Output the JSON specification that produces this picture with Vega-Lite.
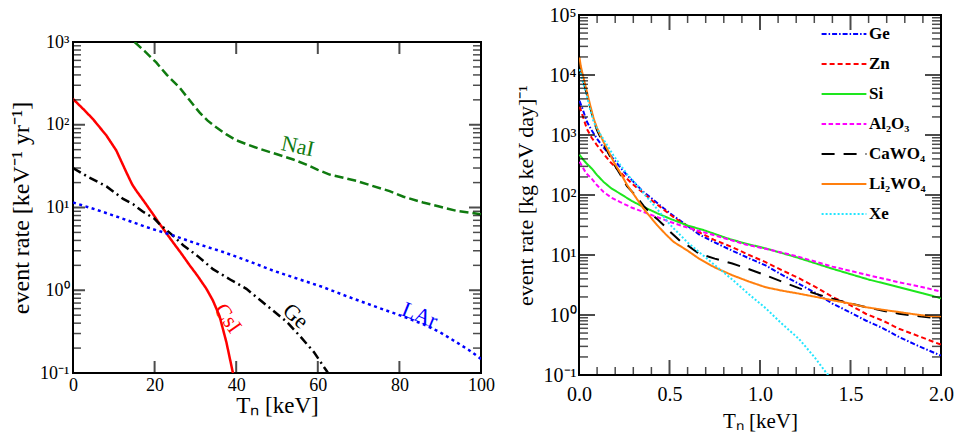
{
  "$schema": "https://vega.github.io/schema/vega-lite/v6.json",
  "background": "white",
  "padding": {"left": 8, "top": 4, "right": 2, "bottom": 0},
  "spacing": 17,
  "datasets": {
    "left": [
      {"series": "NaI", "T": 15.1, "rate": 1000}, {"series": "NaI", "T": 17.5, "rate": 780}, {"series": "NaI", "T": 20.4, "rate": 566},
      {"series": "NaI", "T": 23, "rate": 400}, {"series": "NaI", "T": 26.1, "rate": 282}, {"series": "NaI", "T": 28.5, "rate": 200},
      {"series": "NaI", "T": 31, "rate": 141}, {"series": "NaI", "T": 33, "rate": 112}, {"series": "NaI", "T": 35.1, "rate": 93},
      {"series": "NaI", "T": 37.5, "rate": 77}, {"series": "NaI", "T": 40, "rate": 65}, {"series": "NaI", "T": 43, "rate": 57},
      {"series": "NaI", "T": 45.8, "rate": 51}, {"series": "NaI", "T": 50, "rate": 44}, {"series": "NaI", "T": 54, "rate": 38},
      {"series": "NaI", "T": 57.2, "rate": 33}, {"series": "NaI", "T": 60, "rate": 28.5}, {"series": "NaI", "T": 62.9, "rate": 25},
      {"series": "NaI", "T": 66, "rate": 23}, {"series": "NaI", "T": 69.4, "rate": 21}, {"series": "NaI", "T": 73, "rate": 18.5},
      {"series": "NaI", "T": 77.6, "rate": 15.8}, {"series": "NaI", "T": 81, "rate": 13.5}, {"series": "NaI", "T": 85.8, "rate": 11.5},
      {"series": "NaI", "T": 90, "rate": 10.2}, {"series": "NaI", "T": 94, "rate": 9.1}, {"series": "NaI", "T": 100, "rate": 8.3},
      {"series": "CsI", "T": 0, "rate": 205}, {"series": "CsI", "T": 2.5, "rate": 155}, {"series": "CsI", "T": 4.9, "rate": 117},
      {"series": "CsI", "T": 8.2, "rate": 74}, {"series": "CsI", "T": 10.6, "rate": 49}, {"series": "CsI", "T": 13.1, "rate": 26.5},
      {"series": "CsI", "T": 14.5, "rate": 19}, {"series": "CsI", "T": 15.5, "rate": 16}, {"series": "CsI", "T": 17.6, "rate": 11.5},
      {"series": "CsI", "T": 20, "rate": 7.8}, {"series": "CsI", "T": 20.8, "rate": 6.8}, {"series": "CsI", "T": 22.5, "rate": 5.2},
      {"series": "CsI", "T": 24.5, "rate": 3.8}, {"series": "CsI", "T": 26.5, "rate": 2.8}, {"series": "CsI", "T": 28.6, "rate": 2.0},
      {"series": "CsI", "T": 30.5, "rate": 1.5}, {"series": "CsI", "T": 32.7, "rate": 1.04}, {"series": "CsI", "T": 34.3, "rate": 0.75},
      {"series": "CsI", "T": 35.9, "rate": 0.49}, {"series": "CsI", "T": 37.6, "rate": 0.235}, {"series": "CsI", "T": 39.2, "rate": 0.1},
      {"series": "Ge", "T": 0, "rate": 30}, {"series": "Ge", "T": 4, "rate": 23}, {"series": "Ge", "T": 8.2, "rate": 18},
      {"series": "Ge", "T": 12.3, "rate": 12.7}, {"series": "Ge", "T": 14.7, "rate": 11}, {"series": "Ge", "T": 17, "rate": 9},
      {"series": "Ge", "T": 20, "rate": 7.3}, {"series": "Ge", "T": 21.2, "rate": 6.3}, {"series": "Ge", "T": 24, "rate": 4.8},
      {"series": "Ge", "T": 27, "rate": 3.5}, {"series": "Ge", "T": 30.5, "rate": 2.6}, {"series": "Ge", "T": 34.3, "rate": 1.8},
      {"series": "Ge", "T": 38.5, "rate": 1.35}, {"series": "Ge", "T": 42.5, "rate": 1.04}, {"series": "Ge", "T": 46, "rate": 0.75},
      {"series": "Ge", "T": 49, "rate": 0.57}, {"series": "Ge", "T": 52.5, "rate": 0.41}, {"series": "Ge", "T": 55.6, "rate": 0.28},
      {"series": "Ge", "T": 59, "rate": 0.18}, {"series": "Ge", "T": 62.1, "rate": 0.107}, {"series": "Ge", "T": 62.5, "rate": 0.1},
      {"series": "LAr", "T": 0, "rate": 11.5}, {"series": "LAr", "T": 6, "rate": 9.3}, {"series": "LAr", "T": 12.3, "rate": 7.3},
      {"series": "LAr", "T": 18, "rate": 5.8}, {"series": "LAr", "T": 24.5, "rate": 4.6}, {"series": "LAr", "T": 30, "rate": 3.7},
      {"series": "LAr", "T": 36.8, "rate": 2.9}, {"series": "LAr", "T": 43, "rate": 2.25}, {"series": "LAr", "T": 49, "rate": 1.73},
      {"series": "LAr", "T": 55, "rate": 1.38}, {"series": "LAr", "T": 61.3, "rate": 1.09}, {"series": "LAr", "T": 67, "rate": 0.85},
      {"series": "LAr", "T": 73.5, "rate": 0.65}, {"series": "LAr", "T": 80, "rate": 0.5}, {"series": "LAr", "T": 85.8, "rate": 0.39},
      {"series": "LAr", "T": 90, "rate": 0.31}, {"series": "LAr", "T": 94, "rate": 0.235}, {"series": "LAr", "T": 97, "rate": 0.19},
      {"series": "LAr", "T": 100, "rate": 0.148}
    ],
    "leftLabels": [
      {"series": "NaI", "T": 55.1, "rate": 55, "label": "NaI"},
      {"series": "CsI", "T": 38, "rate": 0.46, "label": "CsI"},
      {"series": "Ge", "T": 54.6, "rate": 0.49, "label": "Ge"},
      {"series": "LAr", "T": 85, "rate": 0.5, "label": "LAr"}
    ],
    "leftXTicks": [{"T": 20}, {"T": 40}, {"T": 60}, {"T": 80}],
    "leftYTicks": [
      {"rate": 0.2}, {"rate": 0.3}, {"rate": 0.4}, {"rate": 0.5}, {"rate": 0.6}, {"rate": 0.7}, {"rate": 0.8}, {"rate": 0.9},
      {"rate": 1}, {"rate": 2}, {"rate": 3}, {"rate": 4}, {"rate": 5}, {"rate": 6}, {"rate": 7}, {"rate": 8}, {"rate": 9},
      {"rate": 10}, {"rate": 20}, {"rate": 30}, {"rate": 40}, {"rate": 50}, {"rate": 60}, {"rate": 70}, {"rate": 80}, {"rate": 90},
      {"rate": 100}, {"rate": 200}, {"rate": 300}, {"rate": 400}, {"rate": 500}, {"rate": 600}, {"rate": 700}, {"rate": 800}, {"rate": 900}
    ],
    "right": [
      {"series": "Ge", "T": 0.003, "rate": 3700}, {"series": "Ge", "T": 0.02, "rate": 2700}, {"series": "Ge", "T": 0.044, "rate": 1660},
      {"series": "Ge", "T": 0.07, "rate": 1200}, {"series": "Ge", "T": 0.099, "rate": 870}, {"series": "Ge", "T": 0.135, "rate": 620},
      {"series": "Ge", "T": 0.173, "rate": 460}, {"series": "Ge", "T": 0.22, "rate": 310}, {"series": "Ge", "T": 0.265, "rate": 215},
      {"series": "Ge", "T": 0.31, "rate": 155}, {"series": "Ge", "T": 0.357, "rate": 112}, {"series": "Ge", "T": 0.41, "rate": 84},
      {"series": "Ge", "T": 0.468, "rate": 60}, {"series": "Ge", "T": 0.53, "rate": 43}, {"series": "Ge", "T": 0.597, "rate": 31},
      {"series": "Ge", "T": 0.663, "rate": 22}, {"series": "Ge", "T": 0.744, "rate": 16.5}, {"series": "Ge", "T": 0.847, "rate": 11.8},
      {"series": "Ge", "T": 0.94, "rate": 8.8}, {"series": "Ge", "T": 1.031, "rate": 6.7}, {"series": "Ge", "T": 1.12, "rate": 4.7},
      {"series": "Ge", "T": 1.215, "rate": 3.3}, {"series": "Ge", "T": 1.31, "rate": 2.3}, {"series": "Ge", "T": 1.4, "rate": 1.55},
      {"series": "Ge", "T": 1.5, "rate": 1.1}, {"series": "Ge", "T": 1.584, "rate": 0.81}, {"series": "Ge", "T": 1.68, "rate": 0.6},
      {"series": "Ge", "T": 1.768, "rate": 0.43}, {"series": "Ge", "T": 1.88, "rate": 0.3}, {"series": "Ge", "T": 2.0, "rate": 0.21},
      {"series": "Zn", "T": 0.003, "rate": 3000}, {"series": "Zn", "T": 0.02, "rate": 2100}, {"series": "Zn", "T": 0.044, "rate": 1260},
      {"series": "Zn", "T": 0.07, "rate": 900}, {"series": "Zn", "T": 0.099, "rate": 680}, {"series": "Zn", "T": 0.135, "rate": 490},
      {"series": "Zn", "T": 0.173, "rate": 355}, {"series": "Zn", "T": 0.22, "rate": 255}, {"series": "Zn", "T": 0.265, "rate": 186},
      {"series": "Zn", "T": 0.31, "rate": 140}, {"series": "Zn", "T": 0.357, "rate": 107}, {"series": "Zn", "T": 0.41, "rate": 78},
      {"series": "Zn", "T": 0.468, "rate": 57}, {"series": "Zn", "T": 0.53, "rate": 41}, {"series": "Zn", "T": 0.597, "rate": 31},
      {"series": "Zn", "T": 0.663, "rate": 24}, {"series": "Zn", "T": 0.744, "rate": 18}, {"series": "Zn", "T": 0.847, "rate": 13.5},
      {"series": "Zn", "T": 0.94, "rate": 10}, {"series": "Zn", "T": 1.031, "rate": 7.6}, {"series": "Zn", "T": 1.12, "rate": 5.6},
      {"series": "Zn", "T": 1.215, "rate": 4.1}, {"series": "Zn", "T": 1.31, "rate": 2.9}, {"series": "Zn", "T": 1.4, "rate": 2.0},
      {"series": "Zn", "T": 1.5, "rate": 1.45}, {"series": "Zn", "T": 1.584, "rate": 1.05}, {"series": "Zn", "T": 1.68, "rate": 0.8},
      {"series": "Zn", "T": 1.768, "rate": 0.59}, {"series": "Zn", "T": 1.88, "rate": 0.44}, {"series": "Zn", "T": 2.0, "rate": 0.32},
      {"series": "Si", "T": 0.003, "rate": 470}, {"series": "Si", "T": 0.02, "rate": 400}, {"series": "Si", "T": 0.04, "rate": 340},
      {"series": "Si", "T": 0.07, "rate": 277}, {"series": "Si", "T": 0.1, "rate": 215}, {"series": "Si", "T": 0.136, "rate": 165},
      {"series": "Si", "T": 0.18, "rate": 128}, {"series": "Si", "T": 0.228, "rate": 105}, {"series": "Si", "T": 0.29, "rate": 80},
      {"series": "Si", "T": 0.357, "rate": 63}, {"series": "Si", "T": 0.43, "rate": 50}, {"series": "Si", "T": 0.505, "rate": 40},
      {"series": "Si", "T": 0.6, "rate": 31}, {"series": "Si", "T": 0.689, "rate": 26}, {"series": "Si", "T": 0.818, "rate": 19},
      {"series": "Si", "T": 0.92, "rate": 15.5}, {"series": "Si", "T": 1.031, "rate": 12.9}, {"series": "Si", "T": 1.2, "rate": 9.2},
      {"series": "Si", "T": 1.4, "rate": 5.9}, {"series": "Si", "T": 1.6, "rate": 3.9}, {"series": "Si", "T": 1.77, "rate": 2.9},
      {"series": "Si", "T": 1.9, "rate": 2.3}, {"series": "Si", "T": 2.0, "rate": 1.9},
      {"series": "Al2O3", "T": 0.003, "rate": 360}, {"series": "Al2O3", "T": 0.02, "rate": 290}, {"series": "Al2O3", "T": 0.04, "rate": 230},
      {"series": "Al2O3", "T": 0.07, "rate": 187}, {"series": "Al2O3", "T": 0.1, "rate": 145}, {"series": "Al2O3", "T": 0.136, "rate": 112},
      {"series": "Al2O3", "T": 0.18, "rate": 90}, {"series": "Al2O3", "T": 0.228, "rate": 76}, {"series": "Al2O3", "T": 0.29, "rate": 62},
      {"series": "Al2O3", "T": 0.357, "rate": 52}, {"series": "Al2O3", "T": 0.43, "rate": 43}, {"series": "Al2O3", "T": 0.505, "rate": 35.5},
      {"series": "Al2O3", "T": 0.6, "rate": 28.5}, {"series": "Al2O3", "T": 0.689, "rate": 24}, {"series": "Al2O3", "T": 0.818, "rate": 18.5},
      {"series": "Al2O3", "T": 0.92, "rate": 15}, {"series": "Al2O3", "T": 1.031, "rate": 12.7}, {"series": "Al2O3", "T": 1.2, "rate": 9.6},
      {"series": "Al2O3", "T": 1.4, "rate": 6.4}, {"series": "Al2O3", "T": 1.6, "rate": 4.6}, {"series": "Al2O3", "T": 1.77, "rate": 3.5},
      {"series": "Al2O3", "T": 1.9, "rate": 2.9}, {"series": "Al2O3", "T": 2.0, "rate": 2.45},
      {"series": "CaWO4", "T": 0.002, "rate": 17000}, {"series": "CaWO4", "T": 0.01, "rate": 12500}, {"series": "CaWO4", "T": 0.026, "rate": 7800},
      {"series": "CaWO4", "T": 0.044, "rate": 4700}, {"series": "CaWO4", "T": 0.06, "rate": 3000}, {"series": "CaWO4", "T": 0.081, "rate": 1750},
      {"series": "CaWO4", "T": 0.1, "rate": 1200}, {"series": "CaWO4", "T": 0.136, "rate": 700}, {"series": "CaWO4", "T": 0.165, "rate": 480},
      {"series": "CaWO4", "T": 0.192, "rate": 330}, {"series": "CaWO4", "T": 0.23, "rate": 215}, {"series": "CaWO4", "T": 0.265, "rate": 140},
      {"series": "CaWO4", "T": 0.31, "rate": 100}, {"series": "CaWO4", "T": 0.357, "rate": 66}, {"series": "CaWO4", "T": 0.4, "rate": 48},
      {"series": "CaWO4", "T": 0.431, "rate": 40}, {"series": "CaWO4", "T": 0.48, "rate": 29}, {"series": "CaWO4", "T": 0.5, "rate": 25},
      {"series": "CaWO4", "T": 0.56, "rate": 17}, {"series": "CaWO4", "T": 0.6, "rate": 14.5}, {"series": "CaWO4", "T": 0.663, "rate": 10.5},
      {"series": "CaWO4", "T": 0.75, "rate": 8.7}, {"series": "CaWO4", "T": 0.847, "rate": 7.2}, {"series": "CaWO4", "T": 0.94, "rate": 5.8},
      {"series": "CaWO4", "T": 1.031, "rate": 4.6}, {"series": "CaWO4", "T": 1.12, "rate": 3.6}, {"series": "CaWO4", "T": 1.215, "rate": 2.8},
      {"series": "CaWO4", "T": 1.31, "rate": 2.25}, {"series": "CaWO4", "T": 1.4, "rate": 1.86}, {"series": "CaWO4", "T": 1.5, "rate": 1.55},
      {"series": "CaWO4", "T": 1.584, "rate": 1.35}, {"series": "CaWO4", "T": 1.68, "rate": 1.18}, {"series": "CaWO4", "T": 1.768, "rate": 1.05},
      {"series": "CaWO4", "T": 1.88, "rate": 0.95}, {"series": "CaWO4", "T": 2.0, "rate": 0.87},
      {"series": "Li2WO4", "T": 0.002, "rate": 20000}, {"series": "Li2WO4", "T": 0.01, "rate": 14000}, {"series": "Li2WO4", "T": 0.026, "rate": 8700},
      {"series": "Li2WO4", "T": 0.044, "rate": 5200}, {"series": "Li2WO4", "T": 0.06, "rate": 3300}, {"series": "Li2WO4", "T": 0.081, "rate": 1870},
      {"series": "Li2WO4", "T": 0.1, "rate": 1300}, {"series": "Li2WO4", "T": 0.136, "rate": 760}, {"series": "Li2WO4", "T": 0.165, "rate": 520},
      {"series": "Li2WO4", "T": 0.192, "rate": 355}, {"series": "Li2WO4", "T": 0.23, "rate": 230}, {"series": "Li2WO4", "T": 0.265, "rate": 148},
      {"series": "Li2WO4", "T": 0.31, "rate": 95}, {"series": "Li2WO4", "T": 0.357, "rate": 59}, {"series": "Li2WO4", "T": 0.4, "rate": 41},
      {"series": "Li2WO4", "T": 0.431, "rate": 31.6}, {"series": "Li2WO4", "T": 0.48, "rate": 22}, {"series": "Li2WO4", "T": 0.523, "rate": 16.5},
      {"series": "Li2WO4", "T": 0.6, "rate": 11.8}, {"series": "Li2WO4", "T": 0.663, "rate": 8.7}, {"series": "Li2WO4", "T": 0.75, "rate": 6.2},
      {"series": "Li2WO4", "T": 0.847, "rate": 4.6}, {"series": "Li2WO4", "T": 0.94, "rate": 3.6}, {"series": "Li2WO4", "T": 1.031, "rate": 2.9},
      {"series": "Li2WO4", "T": 1.12, "rate": 2.55}, {"series": "Li2WO4", "T": 1.215, "rate": 2.27}, {"series": "Li2WO4", "T": 1.31, "rate": 2.0},
      {"series": "Li2WO4", "T": 1.4, "rate": 1.76}, {"series": "Li2WO4", "T": 1.5, "rate": 1.55}, {"series": "Li2WO4", "T": 1.584, "rate": 1.35},
      {"series": "Li2WO4", "T": 1.68, "rate": 1.22}, {"series": "Li2WO4", "T": 1.768, "rate": 1.12}, {"series": "Li2WO4", "T": 1.86, "rate": 1.02},
      {"series": "Li2WO4", "T": 1.95, "rate": 0.95}, {"series": "Li2WO4", "T": 2.0, "rate": 0.93},
      {"series": "Xe", "T": 0.002, "rate": 12500}, {"series": "Xe", "T": 0.01, "rate": 10500}, {"series": "Xe", "T": 0.025, "rate": 7000},
      {"series": "Xe", "T": 0.042, "rate": 4600}, {"series": "Xe", "T": 0.06, "rate": 2800}, {"series": "Xe", "T": 0.081, "rate": 1650},
      {"series": "Xe", "T": 0.12, "rate": 1000}, {"series": "Xe", "T": 0.155, "rate": 680}, {"series": "Xe", "T": 0.19, "rate": 460},
      {"series": "Xe", "T": 0.228, "rate": 316}, {"series": "Xe", "T": 0.27, "rate": 215}, {"series": "Xe", "T": 0.32, "rate": 147},
      {"series": "Xe", "T": 0.365, "rate": 100}, {"series": "Xe", "T": 0.413, "rate": 68}, {"series": "Xe", "T": 0.46, "rate": 46},
      {"series": "Xe", "T": 0.505, "rate": 31.6}, {"series": "Xe", "T": 0.55, "rate": 23}, {"series": "Xe", "T": 0.597, "rate": 16.5},
      {"series": "Xe", "T": 0.663, "rate": 11.2}, {"series": "Xe", "T": 0.75, "rate": 6.8}, {"series": "Xe", "T": 0.847, "rate": 3.9},
      {"series": "Xe", "T": 0.94, "rate": 2.2}, {"series": "Xe", "T": 1.031, "rate": 1.3}, {"series": "Xe", "T": 1.12, "rate": 0.72},
      {"series": "Xe", "T": 1.215, "rate": 0.4}, {"series": "Xe", "T": 1.3, "rate": 0.2}, {"series": "Xe", "T": 1.37, "rate": 0.105},
      {"series": "Xe", "T": 1.38, "rate": 0.1}
    ],
    "rightXTicks": [
      {"T": 0.1}, {"T": 0.2}, {"T": 0.3}, {"T": 0.4}, {"T": 0.5}, {"T": 0.6}, {"T": 0.7}, {"T": 0.8}, {"T": 0.9}, {"T": 1.0},
      {"T": 1.1}, {"T": 1.2}, {"T": 1.3}, {"T": 1.4}, {"T": 1.5}, {"T": 1.6}, {"T": 1.7}, {"T": 1.8}, {"T": 1.9}
    ],
    "rightYTicks": [
      {"rate": 0.2}, {"rate": 0.3}, {"rate": 0.4}, {"rate": 0.5}, {"rate": 0.6}, {"rate": 0.7}, {"rate": 0.8}, {"rate": 0.9},
      {"rate": 1}, {"rate": 2}, {"rate": 3}, {"rate": 4}, {"rate": 5}, {"rate": 6}, {"rate": 7}, {"rate": 8}, {"rate": 9},
      {"rate": 10}, {"rate": 20}, {"rate": 30}, {"rate": 40}, {"rate": 50}, {"rate": 60}, {"rate": 70}, {"rate": 80}, {"rate": 90},
      {"rate": 100}, {"rate": 200}, {"rate": 300}, {"rate": 400}, {"rate": 500}, {"rate": 600}, {"rate": 700}, {"rate": 800}, {"rate": 900},
      {"rate": 1000}, {"rate": 2000}, {"rate": 3000}, {"rate": 4000}, {"rate": 5000}, {"rate": 6000}, {"rate": 7000}, {"rate": 8000}, {"rate": 9000},
      {"rate": 10000}, {"rate": 20000}, {"rate": 30000}, {"rate": 40000}, {"rate": 50000}, {"rate": 60000}, {"rate": 70000}, {"rate": 80000}, {"rate": 90000}
    ]
  },
  "hconcat": [
    {
      "spacing": 0,
      "vconcat": [
        {
          "width": 408,
          "height": 17,
          "view": {"stroke": null},
          "data": {"values": [{}]},
          "mark": {"type": "text"},
          "encoding": {"text": {"value": ""}}
        },
        {
          "width": 408,
          "height": 331,
          "layer": [
            {
              "data": {"name": "left"},
              "mark": {"type": "line", "strokeWidth": 2.5, "clip": true},
              "encoding": {
                "x": {
                  "field": "T", "type": "quantitative",
                  "scale": {"domain": [0, 100], "nice": false, "zero": false},
                  "axis": {
                    "orient": "bottom", "values": [0, 20, 40, 60, 80, 100],
                    "ticks": false, "tickSize": 0, "labelPadding": 3,
                    "labelFontSize": 18,
                    "title": "Tₙ [keV]", "titleFontSize": 23, "titlePadding": 0
                  }
                },
                "y": {
                  "field": "rate", "type": "quantitative",
                  "scale": {"type": "log", "domain": [0.1, 1000], "nice": false},
                  "axis": {
                    "orient": "left",
                    "values": [0.1, 1, 10, 100, 1000],
                    "ticks": false, "tickSize": 0,
                    "labelExpr": "['10⁻¹','10⁰','10¹','10²','10³','10⁴','10⁵'][round(log(datum.value)/LN10) + 1]",
                    "labelPadding": 4, "labelFontSize": 18,
                    "title": "event rate [keV⁻¹ yr⁻¹]", "titleFontSize": 24, "titlePadding": 6
                  }
                },
                "color": {
                  "field": "series", "type": "nominal",
                  "scale": {"domain": ["NaI", "CsI", "Ge", "LAr"], "range": ["#0f7a0f", "#ff0000", "#000000", "#0000ff"]},
                  "legend": null
                },
                "strokeDash": {
                  "field": "series", "type": "nominal",
                  "scale": {"domain": ["NaI", "CsI", "Ge", "LAr"], "range": [[9, 4], [1, 0], [9, 4, 2, 4], [3, 3.5]]},
                  "legend": null
                }
              }
            },
            {
              "data": {"name": "leftXTicks"},
              "mark": {"type": "tick", "orient": "vertical", "size": 24, "thickness": 2, "color": "black", "clip": true},
              "encoding": {
                "x": {"field": "T", "type": "quantitative", "axis": null},
                "y": {"datum": 0.1, "type": "quantitative", "scale": {"type": "log"}, "axis": null}
              }
            },
            {
              "data": {"name": "leftXTicks"},
              "mark": {"type": "tick", "orient": "vertical", "size": 24, "thickness": 2, "color": "black", "clip": true},
              "encoding": {
                "x": {"field": "T", "type": "quantitative", "axis": null},
                "y": {"datum": 1000, "type": "quantitative", "scale": {"type": "log"}, "axis": null}
              }
            },
            {
              "data": {"name": "leftYTicks"},
              "transform": [{"filter": "abs(log(datum.rate)/LN10 - round(log(datum.rate)/LN10)) < 0.001"}],
              "mark": {"type": "tick", "orient": "horizontal", "size": 24, "thickness": 2, "color": "black", "clip": true},
              "encoding": {
                "x": {"datum": 0, "type": "quantitative", "axis": null},
                "y": {"field": "rate", "type": "quantitative", "scale": {"type": "log"}, "axis": null}
              }
            },
            {
              "data": {"name": "leftYTicks"},
              "transform": [{"filter": "abs(log(datum.rate)/LN10 - round(log(datum.rate)/LN10)) >= 0.001"}],
              "mark": {"type": "tick", "orient": "horizontal", "size": 16, "thickness": 1.5, "color": "black", "clip": true},
              "encoding": {
                "x": {"datum": 0, "type": "quantitative", "axis": null},
                "y": {"field": "rate", "type": "quantitative", "scale": {"type": "log"}, "axis": null}
              }
            },
            {
              "data": {"name": "leftYTicks"},
              "transform": [{"filter": "abs(log(datum.rate)/LN10 - round(log(datum.rate)/LN10)) < 0.001"}],
              "mark": {"type": "tick", "orient": "horizontal", "size": 24, "thickness": 2, "color": "black", "clip": true},
              "encoding": {
                "x": {"datum": 100, "type": "quantitative", "axis": null},
                "y": {"field": "rate", "type": "quantitative", "scale": {"type": "log"}, "axis": null}
              }
            },
            {
              "data": {"name": "leftYTicks"},
              "transform": [{"filter": "abs(log(datum.rate)/LN10 - round(log(datum.rate)/LN10)) >= 0.001"}],
              "mark": {"type": "tick", "orient": "horizontal", "size": 16, "thickness": 1.5, "color": "black", "clip": true},
              "encoding": {
                "x": {"datum": 100, "type": "quantitative", "axis": null},
                "y": {"field": "rate", "type": "quantitative", "scale": {"type": "log"}, "axis": null}
              }
            },
            {
              "data": {"name": "leftLabels"},
              "transform": [{"filter": "datum.series == 'NaI'"}],
              "mark": {"type": "text", "font": "Liberation Serif", "fontSize": 22, "fontStyle": "normal", "angle": 12},
              "encoding": {
                "x": {"field": "T", "type": "quantitative", "axis": null},
                "y": {"field": "rate", "type": "quantitative", "scale": {"type": "log"}, "axis": null},
                "text": {"field": "label"},
                "color": {"field": "series", "type": "nominal", "legend": null}
              }
            },
            {
              "data": {"name": "leftLabels"},
              "transform": [{"filter": "datum.series == 'CsI'"}],
              "mark": {"type": "text", "font": "Liberation Serif", "fontSize": 22, "fontStyle": "normal", "angle": 55},
              "encoding": {
                "x": {"field": "T", "type": "quantitative", "axis": null},
                "y": {"field": "rate", "type": "quantitative", "scale": {"type": "log"}, "axis": null},
                "text": {"field": "label"},
                "color": {"field": "series", "type": "nominal", "legend": null}
              }
            },
            {
              "data": {"name": "leftLabels"},
              "transform": [{"filter": "datum.series == 'Ge'"}],
              "mark": {"type": "text", "font": "Liberation Serif", "fontSize": 22, "fontStyle": "normal", "angle": 42},
              "encoding": {
                "x": {"field": "T", "type": "quantitative", "axis": null},
                "y": {"field": "rate", "type": "quantitative", "scale": {"type": "log"}, "axis": null},
                "text": {"field": "label"},
                "color": {"field": "series", "type": "nominal", "legend": null}
              }
            },
            {
              "data": {"name": "leftLabels"},
              "transform": [{"filter": "datum.series == 'LAr'"}],
              "mark": {"type": "text", "font": "Liberation Serif", "fontSize": 22, "fontStyle": "normal", "angle": 22},
              "encoding": {
                "x": {"field": "T", "type": "quantitative", "axis": null},
                "y": {"field": "rate", "type": "quantitative", "scale": {"type": "log"}, "axis": null},
                "text": {"field": "label"},
                "color": {"field": "series", "type": "nominal", "legend": null}
              }
            }
          ],
          "resolve": {"axis": {"x": "independent", "y": "independent"}}
        }
      ]
    },
    {
      "width": 362,
      "height": 360,
      "layer": [
        {
          "data": {"name": "right"},
          "mark": {"type": "line", "strokeWidth": 2, "clip": true},
          "encoding": {
            "x": {
              "field": "T", "type": "quantitative",
              "scale": {"domain": [0, 2], "nice": false, "zero": false},
              "axis": {
                "orient": "bottom",
                "values": [0, 0.5, 1, 1.5, 2],
                "ticks": false, "tickSize": 0,
                "format": ".1f",
                "labelPadding": 9, "labelFontSize": 20,
                "title": "Tₙ [keV]", "titleFontSize": 21, "titlePadding": 6
              }
            },
            "y": {
              "field": "rate", "type": "quantitative",
              "scale": {"type": "log", "domain": [0.1, 100000], "nice": false},
              "axis": {
                "orient": "left",
                "values": [0.1, 1, 10, 100, 1000, 10000, 100000],
                "ticks": false, "tickSize": 0,
                "labelExpr": "['10⁻¹','10⁰','10¹','10²','10³','10⁴','10⁵'][round(log(datum.value)/LN10) + 1]",
                "labelPadding": 3, "labelFontSize": 20,
                "title": "event rate [kg keV day]⁻¹", "titleFontSize": 22, "titlePadding": 6
              }
            },
            "color": {
              "field": "series", "type": "nominal",
              "scale": {
                "domain": ["Ge", "Zn", "Si", "Al2O3", "CaWO4", "Li2WO4", "Xe"],
                "range": ["#0000ff", "#ff0000", "#1ee61e", "#ff00ff", "#000000", "#ff7f0e", "#22e5ff"]
              },
              "legend": {
                "orient": "none", "legendX": 250, "legendY": 4, "title": null,
                "symbolType": "M-1.6,0L1.6,0", "symbolSize": 784, "symbolStrokeWidth": 2,
                "labelFont": "Liberation Serif", "labelFontSize": 17, "labelFontWeight": "bold", "labelColor": "black",
                "labelOffset": 10, "rowPadding": 7, "padding": 0,
                "labelExpr": "datum.label == 'Al2O3' ? 'Al₂O₃' : datum.label == 'CaWO4' ? 'CaWO₄' : datum.label == 'Li2WO4' ? 'Li₂WO₄' : datum.label"
              }
            },
            "strokeDash": {
              "field": "series", "type": "nominal",
              "scale": {
                "domain": ["Ge", "Zn", "Si", "Al2O3", "CaWO4", "Li2WO4", "Xe"],
                "range": [[5, 2, 1.5, 2], [5, 3], [1, 0], [4.5, 2.5], [13, 9], [1, 0], [2, 2]]
              }
            }
          }
        },
        {
          "data": {"name": "rightXTicks"},
          "transform": [{"filter": "abs(datum.T*2 - round(datum.T*2)) < 0.001"}],
          "mark": {"type": "tick", "orient": "vertical", "size": 30, "thickness": 2, "color": "black", "clip": true},
          "encoding": {
            "x": {"field": "T", "type": "quantitative", "axis": null},
            "y": {"datum": 0.1, "type": "quantitative", "scale": {"type": "log"}, "axis": null}
          }
        },
        {
          "data": {"name": "rightXTicks"},
          "transform": [{"filter": "abs(datum.T*2 - round(datum.T*2)) >= 0.001"}],
          "mark": {"type": "tick", "orient": "vertical", "size": 16, "thickness": 1.5, "color": "black", "clip": true},
          "encoding": {
            "x": {"field": "T", "type": "quantitative", "axis": null},
            "y": {"datum": 0.1, "type": "quantitative", "scale": {"type": "log"}, "axis": null}
          }
        },
        {
          "data": {"name": "rightXTicks"},
          "transform": [{"filter": "abs(datum.T*2 - round(datum.T*2)) < 0.001"}],
          "mark": {"type": "tick", "orient": "vertical", "size": 30, "thickness": 2, "color": "black", "clip": true},
          "encoding": {
            "x": {"field": "T", "type": "quantitative", "axis": null},
            "y": {"datum": 100000, "type": "quantitative", "scale": {"type": "log"}, "axis": null}
          }
        },
        {
          "data": {"name": "rightXTicks"},
          "transform": [{"filter": "abs(datum.T*2 - round(datum.T*2)) >= 0.001"}],
          "mark": {"type": "tick", "orient": "vertical", "size": 16, "thickness": 1.5, "color": "black", "clip": true},
          "encoding": {
            "x": {"field": "T", "type": "quantitative", "axis": null},
            "y": {"datum": 100000, "type": "quantitative", "scale": {"type": "log"}, "axis": null}
          }
        },
        {
          "data": {"name": "rightYTicks"},
          "transform": [{"filter": "abs(log(datum.rate)/LN10 - round(log(datum.rate)/LN10)) < 0.001"}],
          "mark": {"type": "tick", "orient": "horizontal", "size": 32, "thickness": 2, "color": "black", "clip": true},
          "encoding": {
            "x": {"datum": 0, "type": "quantitative", "axis": null},
            "y": {"field": "rate", "type": "quantitative", "scale": {"type": "log"}, "axis": null}
          }
        },
        {
          "data": {"name": "rightYTicks"},
          "transform": [{"filter": "abs(log(datum.rate)/LN10 - round(log(datum.rate)/LN10)) >= 0.001"}],
          "mark": {"type": "tick", "orient": "horizontal", "size": 18, "thickness": 1.5, "color": "black", "clip": true},
          "encoding": {
            "x": {"datum": 0, "type": "quantitative", "axis": null},
            "y": {"field": "rate", "type": "quantitative", "scale": {"type": "log"}, "axis": null}
          }
        },
        {
          "data": {"name": "rightYTicks"},
          "transform": [{"filter": "abs(log(datum.rate)/LN10 - round(log(datum.rate)/LN10)) < 0.001"}],
          "mark": {"type": "tick", "orient": "horizontal", "size": 32, "thickness": 2, "color": "black", "clip": true},
          "encoding": {
            "x": {"datum": 2, "type": "quantitative", "axis": null},
            "y": {"field": "rate", "type": "quantitative", "scale": {"type": "log"}, "axis": null}
          }
        },
        {
          "data": {"name": "rightYTicks"},
          "transform": [{"filter": "abs(log(datum.rate)/LN10 - round(log(datum.rate)/LN10)) >= 0.001"}],
          "mark": {"type": "tick", "orient": "horizontal", "size": 18, "thickness": 1.5, "color": "black", "clip": true},
          "encoding": {
            "x": {"datum": 2, "type": "quantitative", "axis": null},
            "y": {"field": "rate", "type": "quantitative", "scale": {"type": "log"}, "axis": null}
          }
        }
      ],
      "resolve": {"axis": {"x": "independent", "y": "independent"}}
    }
  ],
  "resolve": {"scale": {"color": "independent", "strokeDash": "independent"}},
  "config": {
    "view": {"stroke": "black", "strokeWidth": 2},
    "axis": {
      "domain": false, "grid": false,
      "labelColor": "black", "titleColor": "black",
      "labelFont": "Liberation Serif", "titleFont": "Liberation Serif", "titleFontWeight": "normal",
      "labelOverlap": false, "labelFlush": false
    }
  }
}
